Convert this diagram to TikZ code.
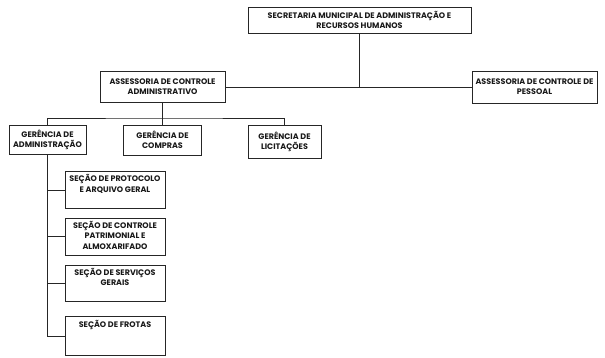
\documentclass[tikz,border=0pt]{standalone}
\usepackage{fontspec}
\setmainfont{Poppins}
\usepackage{tikz}
\usetikzlibrary{positioning}

\begin{document}
\begin{tikzpicture}[
  x=1pt, y=-1pt,
  node distance=9pt,
  txt/.style={font=\bfseries\fontsize{8}{10.3}\selectfont, text=black!90},
  box/.style={draw=black!85, line width=0.8pt, align=center, txt, inner sep=1pt},
  secbox/.style={draw=black!85, line width=0.8pt, minimum width=100pt, minimum height=#1},
  intxt/.style={anchor=north, align=center, txt, inner sep=3.5pt},
  conn/.style={draw=black!85, line width=0.8pt}
]
\useasboundingbox (0,0) rectangle (605,357);

% top level
\node[box, minimum width=223pt, minimum height=26pt] (sec) at (359.5,20)
  {SECRETARIA MUNICIPAL DE ADMINISTRAÇÃO E\\RECURSOS HUMANOS};
\node[box, minimum width=125pt, minimum height=31pt] (aca) at (162.5,87)
  {ASSESSORIA DE CONTROLE\\ADMINISTRATIVO};
\node[box, minimum width=125pt, minimum height=32pt] (acp) at (534.5,87)
  {ASSESSORIA DE CONTROLE DE\\PESSOAL};

% gerencias
\node[box, minimum width=77pt, minimum height=29pt] (gadm) at (47.5,139.5)
  {GERÊNCIA DE\\ADMINISTRAÇÃO};
\node[box, minimum width=78pt, minimum height=30pt] (gcomp) at (162.5,140)
  {GERÊNCIA DE\\COMPRAS};
\node[box, minimum width=73pt, minimum height=33pt] (glic) at (284.5,141.5)
  {GERÊNCIA DE\\LICITAÇÕES};

% secoes
\node[secbox=37pt, anchor=north, label={[intxt]north:{SEÇÃO DE PROTOCOLO\\E ARQUIVO GERAL}}] (s1) at (115,171) {};
\node[secbox=37pt, below=9pt of s1, label={[intxt]north:{SEÇÃO DE CONTROLE\\PATRIMONIAL E\\ALMOXARIFADO}}] (s2) {};
\node[secbox=36pt, below=9pt of s2, label={[intxt]north:{SEÇÃO DE SERVIÇOS\\GERAIS}}] (s3) {};
\node[secbox=39pt, below=15pt of s3, label={[intxt]north:{SEÇÃO DE FROTAS}}] (s4) {};

% ligacoes
\draw[conn] (sec.south) -- (sec.south |- aca.east);
\draw[conn] (aca.east) -- (acp.west);
\coordinate (bus) at (162.5,118);
\draw[conn] (aca.south) -- (gcomp.north);
\draw[conn] (gadm.north) |- (bus) -| (glic.north);
\draw[conn] (gadm.south) |- (s4.west);
\foreach \s in {s1,s2,s3}
  \draw[conn] (gadm.south |- \s.west) -- (\s.west);
\end{tikzpicture}
\end{document}
